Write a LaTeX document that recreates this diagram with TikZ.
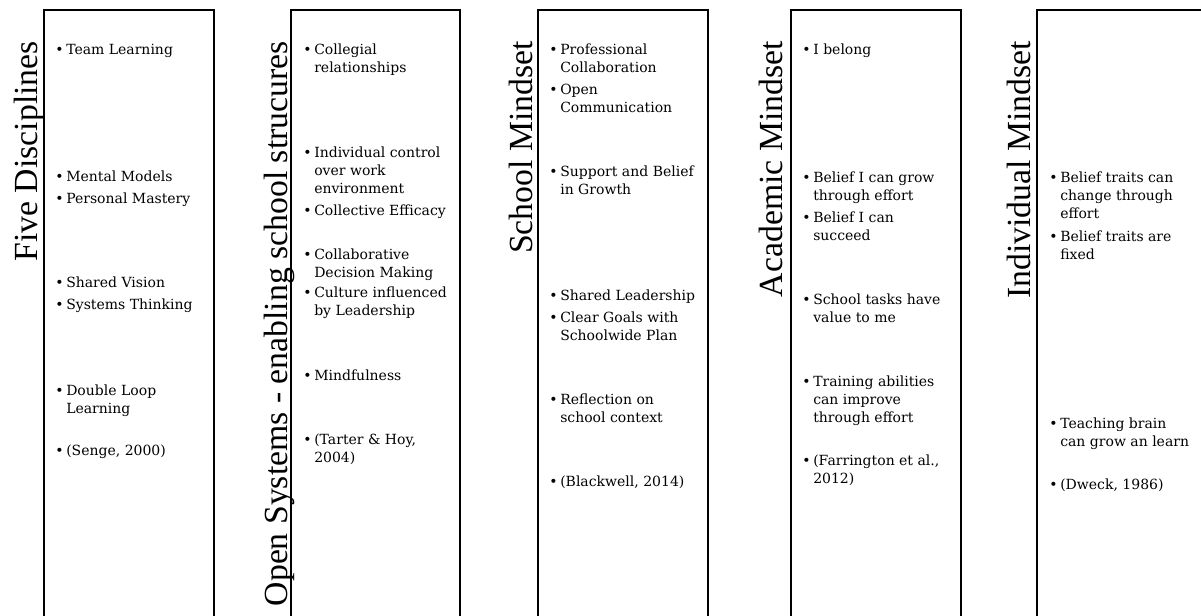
\documentclass[tikz,border=0pt]{standalone}
\usepackage{fontspec}
\setmainfont{DejaVu Serif}
\newfontfamily\titlefont{Liberation Serif}
% bullet with hanging lines
\newcommand{\itm}[1]{\makebox[8.25pt][l]{\textbullet}\begin{tabular}[t]{@{}l@{}}#1\end{tabular}}

\begin{document}
\begin{tikzpicture}[x=0.75pt,y=-0.75pt,
    colbox/.style={draw,line width=1.5pt},
    coltitle/.style={rotate=90,anchor=base east,inner sep=0pt,font=\titlefont\fontsize{25.3}{28}\selectfont},
    bullitem/.style={anchor=base west,inner sep=0pt,yshift=-1.1pt,font=\fontsize{10.5}{13.5}\selectfont}]
    \useasboundingbox (0,0) rectangle (1201,615);
    \clip (0,0) rectangle (1201,615);
    % columns
    \draw[colbox] (44,10) rectangle (214,640);
    \draw[colbox] (291,10) rectangle (460,640);
    \draw[colbox] (538,10) rectangle (708,640);
    \draw[colbox] (791,10) rectangle (961,640);
    \draw[colbox] (1037,10) rectangle (1260,640);
    % titles
    \node[coltitle] (tfd) at (37,41) {Five Disciplines};
    \node[coltitle] (tos) at (287,41) {Open Systems - enabling school strucures};
    \node[coltitle] (tsm) at (532,41) {School Mindset};
    \node[coltitle] (tam) at (782,41) {Academic Mindset};
    \node[coltitle] (tim) at (1030,41) {Individual Mindset};
    % Five Disciplines
    \node[bullitem] (fd1) at (55,53.5) {\itm{Team Learning}};
    \node[bullitem] (fd2) at (55,180.5) {\itm{Mental Models}};
    \node[bullitem] (fd3) at (55,202.5) {\itm{Personal Mastery}};
    \node[bullitem] (fd4) at (55,286.5) {\itm{Shared Vision}};
    \node[bullitem] (fd5) at (55,308.5) {\itm{Systems Thinking}};
    \node[bullitem] (fd6) at (55,394.5) {\itm{Double Loop\\Learning}};
    \node[bullitem] (fd7) at (55,454.5) {\itm{(Senge, 2000)}};
    % Open Systems
    \node[bullitem] (os1) at (303,53.5) {\itm{Collegial\\relationships}};
    \node[bullitem] (os2) at (303,156.5) {\itm{Individual control\\over work\\environment}};
    \node[bullitem] (os3) at (303,214.5) {\itm{Collective Efficacy}};
    \node[bullitem] (os4) at (303,258.5) {\itm{Collaborative\\Decision Making}};
    \node[bullitem] (os5) at (303,296.5) {\itm{Culture influenced\\by Leadership}};
    \node[bullitem] (os6) at (303,379.5) {\itm{Mindfulness}};
    \node[bullitem] (os7) at (303,443.5) {\itm{(Tarter \& Hoy,\\2004)}};
    % School Mindset
    \node[bullitem] (sm1) at (549,53.5) {\itm{Professional\\Collaboration}};
    \node[bullitem] (sm2) at (549,93.5) {\itm{Open\\Communication}};
    \node[bullitem] (sm3) at (549,175.5) {\itm{Support and Belief\\in Growth}};
    \node[bullitem] (sm4) at (549,299.5) {\itm{Shared Leadership}};
    \node[bullitem] (sm5) at (549,321.5) {\itm{Clear Goals with\\Schoolwide Plan}};
    \node[bullitem] (sm6) at (549,403.5) {\itm{Reflection on\\school context}};
    \node[bullitem] (sm7) at (549,485.5) {\itm{(Blackwell, 2014)}};
    % Academic Mindset
    \node[bullitem] (am1) at (802,53.5) {\itm{I belong}};
    \node[bullitem] (am2) at (802,181.5) {\itm{Belief I can grow\\through effort}};
    \node[bullitem] (am3) at (802,221.5) {\itm{Belief I can\\succeed}};
    \node[bullitem] (am4) at (802,303.5) {\itm{School tasks have\\value to me}};
    \node[bullitem] (am5) at (802,385.5) {\itm{Training abilities\\can improve\\through effort}};
    \node[bullitem] (am6) at (802,464.5) {\itm{(Farrington et al.,\\2012)}};
    % Individual Mindset
    \node[bullitem] (im1) at (1049,181.5) {\itm{Belief traits can\\change through\\effort}};
    \node[bullitem] (im2) at (1049,240.5) {\itm{Belief traits are\\fixed}};
    \node[bullitem] (im3) at (1049,427.5) {\itm{Teaching brain\\can grow an learn}};
    \node[bullitem] (im4) at (1049,488.5) {\itm{(Dweck, 1986)}};
\end{tikzpicture}
\end{document}
